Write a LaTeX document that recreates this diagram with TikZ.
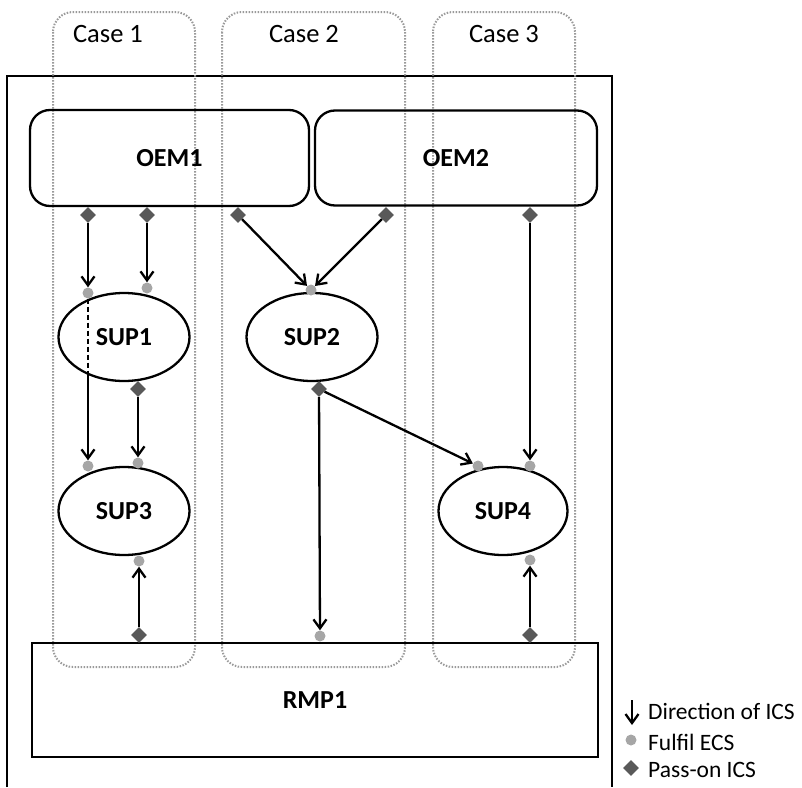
\documentclass[tikz,border=0pt]{standalone}
\usepackage{fontspec}
\setmainfont{Carlito}
\usetikzlibrary{shapes.geometric,arrows.meta}
\definecolor{passon}{HTML}{595959}
\definecolor{fulfil}{HTML}{A6A6A6}
\definecolor{casegray}{HTML}{9A9A9A}

\begin{document}
\begin{tikzpicture}[x=1pt,y=-1pt,
    ics/.style={line width=2.3pt,-{Straight Barb[length=9pt,width=13pt,line width=2.3pt]}},
    fulfilecs/.style={circle,fill=fulfil,inner sep=0pt,minimum size=11pt},
    passonics/.style={diamond,fill=passon,inner sep=0pt,minimum size=16pt},
    firm/.style={draw,line width=2.3pt,rounded corners=20pt,inner sep=0pt,font=\fontsize{26}{30}\selectfont\bfseries},
    sup/.style={draw,ellipse,line width=2.3pt,inner sep=0pt,font=\fontsize{26}{30}\selectfont\bfseries},
    casebox/.style={draw=casegray,line width=2pt,dash pattern=on 1.5pt off 1.5pt,rounded corners=20pt},
    caselabel/.style={font=\fontsize{26.5}{30}\selectfont},
    legend/.style={anchor=west,inner sep=0pt,font=\fontsize{23.5}{27}\selectfont}]
          \useasboundingbox (0,0) rectangle (802,787);
          \draw[line width=2.3pt] (7,787) -- (7,76) -- (612,76) -- (612,787);
          \draw[casebox] (53,12) rectangle (195,667);
          \draw[casebox] (222,12) rectangle (405,667);
          \draw[casebox] (433,12) rectangle (575,667);
          \node[caselabel] (case1) at (108,34) {Case 1};
          \node[caselabel] (case2) at (304,34) {Case 2};
          \node[caselabel] (case3) at (504,34) {Case 3};
          %
          \node[firm,minimum width=279pt,minimum height=96pt] (oem1) at (169.5,158) {OEM1};
          \node[firm,minimum width=282pt,minimum height=95pt] (oem2) at (456,158) {OEM2};
          \node[draw,line width=2.3pt,minimum width=566pt,minimum height=114pt] (rmp1) at (315,700) {\fontsize{26}{30}\selectfont\bfseries RMP1};
          \node[sup,minimum width=131pt,minimum height=88pt] (sup1) at (124,337) {SUP1};
          \node[sup,minimum width=131pt,minimum height=88pt] (sup2) at (312,337) {SUP2};
          \node[sup,minimum width=131pt,minimum height=88pt] (sup3) at (124,511) {SUP3};
          \node[sup,minimum width=129pt,minimum height=88pt] (sup4) at (503,511) {SUP4};
          %
          \node[passonics] (oem1a) at (88,215) {};
          \node[passonics] (oem1b) at (147,215) {};
          \node[passonics] (oem1c) at (238,215) {};
          \node[passonics] (oem2a) at (386,215) {};
          \node[passonics] (oem2b) at (530,215) {};
          \node[passonics] (sup1out) at (138,389) {};
          \node[passonics] (sup2out) at (319,389) {};
          \node[passonics] (rmpa) at (139,635) {};
          \node[passonics] (rmpb) at (530,635) {};
          %
          \node[fulfilecs] (sup1a) at (88,293) {};
          \node[fulfilecs] (sup1b) at (147,288) {};
          \node[fulfilecs] (sup2in) at (311,290) {};
          \node[fulfilecs] (sup3a) at (88,466) {};
          \node[fulfilecs] (sup3b) at (138,463) {};
          \node[fulfilecs] (sup3c) at (139,561) {};
          \node[fulfilecs] (sup4a) at (478,466) {};
          \node[fulfilecs] (sup4b) at (530,466) {};
          \node[fulfilecs] (sup4c) at (530,560) {};
          \node[fulfilecs] (rmpin) at (320,636) {};
          %
          \coordinate (thru) at (88,374);
          \draw[ics] (oem1a) -- (sup1a);
          \draw[line width=2.3pt,dash pattern=on 5pt off 3pt] (sup1a) -- (thru);
          \draw[ics] (thru) -- (sup3a);
          \draw[ics] (oem1b) -- (sup1b);
          \draw[ics] (sup1out) -- (sup3b);
          \draw[ics] (rmpa) -- (sup3c);
          \draw[ics] (oem1c) -- (sup2in);
          \draw[ics] (oem2a) -- (sup2in);
          \draw[ics] (sup2out) -- (rmpin);
          \draw[ics] (sup2out) -- (sup4a);
          \draw[ics] (oem2b) -- (sup4b);
          \draw[ics] (rmpb) -- (sup4c);
          %
          \coordinate (legtop) at (632,700);
          \coordinate (legbot) at (632,725);
          \draw[ics] (legtop) -- (legbot);
          \node[fulfilecs] (legdot) at (631,740) {};
          \node[passonics] (legdia) at (631,768) {};
          \node[legend] (legics) at (648,711) {Direction of ICS};
          \node[legend] (legecs) at (648,742) {Fulfil ECS};
          \node[legend] (legpass) at (648,770) {Pass-on ICS};
        \end{tikzpicture}
\end{document}
